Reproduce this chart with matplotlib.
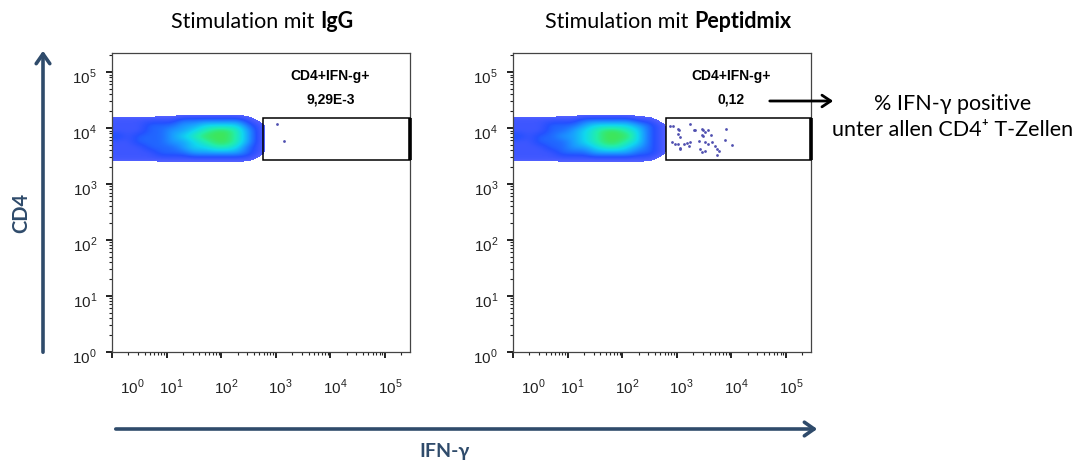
import numpy as np
import matplotlib
matplotlib.use("Agg")
import matplotlib.pyplot as plt
from matplotlib.colors import LinearSegmentedColormap
from matplotlib.patches import Rectangle, FancyArrowPatch
from matplotlib.transforms import blended_transform_factory

plt.rcParams["font.family"] = ["Liberation Sans", "DejaVu Sans"]
plt.rcParams["mathtext.fontset"] = "custom"
plt.rcParams["mathtext.rm"] = "Liberation Sans"

W, H = 1083, 464
NAVY = "#2f4b6b"

# population density (log10 units), rows from low CD4 to high CD4
dens_x_edges = (0.0, 3.0)
dens_y_edges = (3.3, 4.3)
dens_igg = [
    [0, 0, 0, 0, 0, 0, 0, 0, 0, 0, 0, 0, 0, 0, 0],
    [1, 1, 1, 1, 1, 1, 1, 1, 1, 1, 1, 1, 1, 0, 0],
    [1, 1, 1, 1, 2, 2, 2, 3, 3, 3, 3, 3, 2, 1, 0],
    [1, 1, 1, 2, 2, 2, 3, 4, 4, 5, 5, 4, 2, 1, 0],
    [1, 1, 2, 2, 2, 3, 3, 4, 5, 6, 6, 5, 3, 1, 0],
    [2, 1, 2, 2, 2, 3, 4, 5, 6, 6, 6, 5, 3, 1, 0],
    [1, 1, 1, 2, 2, 3, 3, 4, 5, 6, 6, 5, 3, 1, 0],
    [1, 1, 1, 2, 2, 2, 3, 3, 4, 4, 4, 4, 2, 1, 0],
    [1, 1, 1, 1, 1, 1, 2, 2, 2, 2, 2, 2, 1, 0, 0],
    [0, 0, 0, 0, 0, 0, 0, 0, 0, 0, 0, 0, 0, 0, 0],
]
dens_pep = [
    [0, 0, 0, 0, 0, 0, 0, 0, 0, 0, 0, 0, 0, 0, 0],
    [1, 1, 1, 1, 1, 1, 1, 1, 1, 1, 1, 1, 1, 0, 0],
    [1, 1, 1, 1, 2, 2, 2, 3, 3, 3, 3, 2, 2, 1, 0],
    [1, 1, 1, 2, 2, 3, 3, 4, 5, 5, 4, 3, 2, 1, 0],
    [1, 1, 2, 2, 2, 3, 4, 5, 6, 6, 5, 4, 2, 1, 0],
    [2, 1, 2, 2, 3, 3, 4, 5, 6, 6, 6, 4, 2, 1, 0],
    [1, 1, 1, 2, 2, 3, 4, 5, 6, 6, 5, 4, 2, 1, 0],
    [1, 1, 1, 2, 2, 2, 3, 4, 4, 4, 4, 3, 2, 1, 0],
    [1, 1, 1, 1, 1, 1, 2, 2, 2, 2, 2, 1, 1, 0, 0],
    [0, 0, 0, 0, 0, 0, 0, 0, 0, 0, 0, 0, 0, 0, 0],
]

# single events inside the gate (log10 IFN-g, log10 CD4)
ev_igg_x = [3.03, 3.16]
ev_igg_y = [4.07, 3.76]
ev_pep_x = [2.88, 2.94, 3.03, 3.05, 3.25, 3.31, 3.34, 3.46, 3.49, 3.52, 3.58, 3.62,
            3.46, 3.49, 3.90, 3.03, 3.06, 2.91, 2.97, 3.02, 3.06, 3.13, 3.19, 3.25,
            3.40, 3.52, 3.58, 3.64, 3.71, 3.89, 4.01, 3.43, 3.46, 3.52, 3.74, 3.77,
            3.74, 3.06, 3.22]
ev_pep_y = [4.03, 4.03, 3.99, 3.97, 4.07, 3.97, 3.96, 3.98, 3.96, 3.92, 3.97, 3.87,
            3.87, 3.85, 3.98, 3.89, 3.83, 3.74, 3.72, 3.71, 3.65, 3.72, 3.73, 3.74,
            3.77, 3.74, 3.71, 3.74, 3.68, 3.79, 3.70, 3.62, 3.57, 3.59, 3.63, 3.59,
            3.51, 3.62, 3.68]

gate_igg = (2.77, 3.42, 4.18)
gate_pep = (2.81, 3.42, 4.18)
gate_names = ["CD4+IFN-g+", "CD4+IFN-g+"]
gate_values = ["9,29E-3", "0,12"]
titles = [("Stimulation mit ", "IgG"), ("Stimulation mit ", "Peptidmix")]
decades = [0, 1, 2, 3, 4, 5]

cmap = LinearSegmentedColormap.from_list(
    "flow", [(0.0, (0.10, 0.17, 1.0, 0.75)), (0.2, "#2450ff"), (0.45, "#1a9cff"),
             (0.65, "#10d8ee"), (0.85, "#22eeaa"), (1.0, "#3ee65a")])
cmap.set_under((1, 1, 1, 0))

fig = plt.figure(figsize=(W / 100, H / 100), dpi=100)
renderer = fig.canvas.get_renderer()

def fx(x):
    return x / W

def fy(y):
    return 1 - y / H

def draw_panel(left_px, dens, ex, ey, gate, gname, gval):
    ax = fig.add_axes([fx(left_px), fy(352.7), 298 / W, (352.7 - 54) / H])
    ax.set_xlim(0, 5.46)
    ax.set_ylim(0, 5.34)
    ax.imshow(np.array(dens, dtype=float), origin="lower", aspect="auto",
              extent=[*dens_x_edges, *dens_y_edges], cmap=cmap,
              vmin=0.5, vmax=6, interpolation="bicubic",
              interpolation_stage="data", zorder=1)
    ax.scatter(ex, ey, s=4, color="#5050b0", linewidths=0, zorder=2)

    x0, y0, y1 = gate
    ax.add_patch(Rectangle((x0, y0), 5.46 - x0, y1 - y0, fill=False,
                           lw=1.1, ec="black", zorder=3, clip_on=False))
    ax.plot([5.46, 5.46], [y0, y1], color="black", lw=2.6, zorder=4,
            clip_on=False, solid_capstyle="butt")
    ax.text(4.0, 4.95, gname, ha="center", va="center", fontsize=10,
            fontweight="bold")
    ax.text(4.0, 4.52, gval, ha="center", va="center", fontsize=10,
            fontweight="bold")

    minors = [d + np.log10(k) for d in range(6) for k in range(2, 10)]
    ax.set_xticks(decades)
    ax.set_yticks(decades)
    ax.set_xticks([m for m in minors if m < 5.46], minor=True)
    ax.set_yticks([m for m in minors if m < 5.34], minor=True)
    ax.set_xticklabels([])
    ax.set_yticklabels([])
    ax.tick_params(which="major", length=4.5, width=1.4, color="#222222")
    ax.tick_params(which="minor", length=2.2, width=0.8, color="#222222")
    for s in ax.spines.values():
        s.set_color("#444444")
        s.set_linewidth(0.9)

    tx = blended_transform_factory(ax.transData, ax.transAxes)
    for d in decades:
        xpos = 0.37 if d == 0 else d + 0.09
        ax.text(xpos, -0.115, r"$10^{%d}$" % d, transform=tx, ha="center",
                va="center", fontsize=11, color="#222222")
    ty = blended_transform_factory(ax.transAxes, ax.transData)
    for d in decades:
        ax.text(-0.05, d - 0.08, r"$10^{%d}$" % d, transform=ty, ha="right",
                va="center", fontsize=11, color="#222222")
    return ax

draw_panel(112, dens_igg, ev_igg_x, ev_igg_y, gate_igg, gate_names[0],
           gate_values[0])
draw_panel(513, dens_pep, ev_pep_x, ev_pep_y, gate_pep, gate_names[1],
           gate_values[1])

# titles: normal part + bold part, centred together
font_main = ["Lato", "DejaVu Sans"]
for cx, (plain, bold) in zip([262, 668], titles):
    t1 = fig.text(0, fy(22), plain, ha="left", va="center", fontsize=15.5,
                  family=font_main)
    t2 = fig.text(0, fy(22), bold, ha="left", va="center", fontsize=15.5,
                  family=font_main, fontweight="bold")
    w1 = t1.get_window_extent(renderer).width
    w2 = t2.get_window_extent(renderer).width
    start = cx - (w1 + w2) / 2
    t1.set_x(fx(start))
    t2.set_x(fx(start + w1))

# big axis arrows
arrow_style = "->,head_length=0.5,head_width=0.35"
fig.add_artist(FancyArrowPatch(
    (fx(43), fy(356)), (fx(43), fy(49)), transform=fig.transFigure,
    arrowstyle=arrow_style, lw=2.6, color=NAVY, mutation_scale=14))
fig.add_artist(FancyArrowPatch(
    (fx(113), fy(430)), (fx(820), fy(430)), transform=fig.transFigure,
    arrowstyle=arrow_style, lw=2.6, color=NAVY, mutation_scale=14))
fig.text(fx(21), fy(213), "CD4", rotation=90, ha="center", va="center",
         fontsize=14.5, fontweight="bold", color=NAVY, family=font_main)
fig.text(fx(445), fy(452), "IFN-γ", ha="center", va="center",
         fontsize=14, fontweight="bold", color=NAVY, family=font_main)

# explanation arrow + text
fig.add_artist(FancyArrowPatch(
    (fx(767), fy(102)), (fx(836), fy(102)), transform=fig.transFigure,
    arrowstyle="->,head_length=0.45,head_width=0.3", lw=2.0, color="black",
    mutation_scale=14))
fig.text(fx(953), fy(104), "% IFN-γ positive", ha="center", va="center",
         fontsize=15.5, family=font_main)
fig.text(fx(953), fy(130), "unter allen CD4⁺ T-Zellen", ha="center",
         va="center", fontsize=15.5, family=font_main)

fig.savefig("out.png", dpi=100)
